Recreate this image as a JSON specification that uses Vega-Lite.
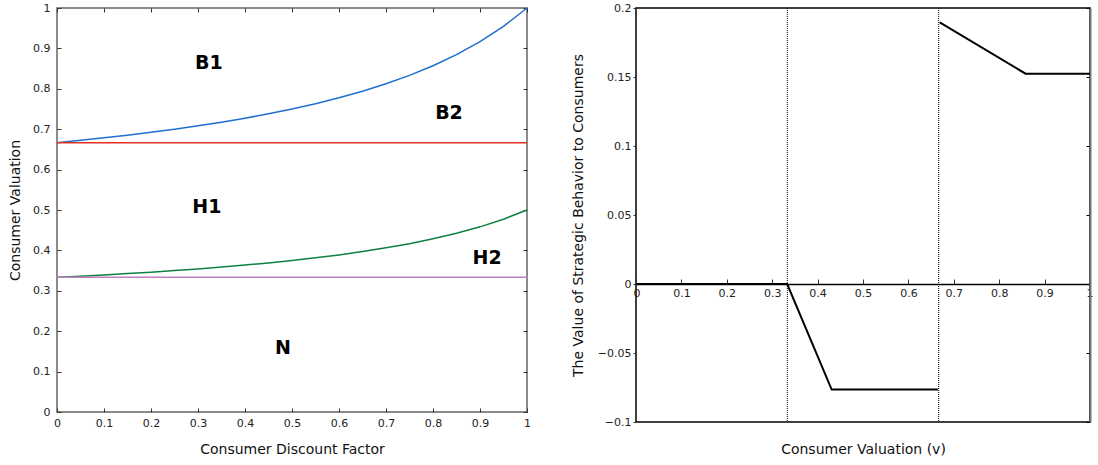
{
  "$schema": "https://vega.github.io/schema/vega-lite/v6.json",
  "padding": {"left": 7, "top": 1, "right": 0, "bottom": 0},
  "config": {
    "font": "DejaVu Sans",
    "axis": {"labelFont": "DejaVu Sans", "labelFontSize": 11, "labelColor": "#222", "titleFont": "DejaVu Sans", "titleFontSize": 14, "titleFontWeight": "normal", "titleColor": "#111", "grid": false, "tickColor": "#333", "domainColor": "#666"}
  },
  "spacing": 38,
  "hconcat": [
    {
      "width": 470,
      "height": 404,
      "view": {"stroke": "#666", "strokeWidth": 1.5},
      "layer": [
        {
          "data": {"values": [
            {"d": 0, "v": 0.6667, "s": "B1/B2"}, {"d": 0.05, "v": 0.6724, "s": "B1/B2"}, {"d": 0.1, "v": 0.6786, "s": "B1/B2"}, {"d": 0.15, "v": 0.6852, "s": "B1/B2"}, {"d": 0.2, "v": 0.6923, "s": "B1/B2"}, {"d": 0.25, "v": 0.7, "s": "B1/B2"}, {"d": 0.3, "v": 0.7083, "s": "B1/B2"}, {"d": 0.35, "v": 0.7174, "s": "B1/B2"}, {"d": 0.4, "v": 0.7273, "s": "B1/B2"}, {"d": 0.45, "v": 0.7381, "s": "B1/B2"}, {"d": 0.5, "v": 0.75, "s": "B1/B2"}, {"d": 0.55, "v": 0.7632, "s": "B1/B2"}, {"d": 0.6, "v": 0.7778, "s": "B1/B2"}, {"d": 0.65, "v": 0.7941, "s": "B1/B2"}, {"d": 0.7, "v": 0.8125, "s": "B1/B2"}, {"d": 0.75, "v": 0.8333, "s": "B1/B2"}, {"d": 0.8, "v": 0.8571, "s": "B1/B2"}, {"d": 0.85, "v": 0.8846, "s": "B1/B2"}, {"d": 0.9, "v": 0.9167, "s": "B1/B2"}, {"d": 0.95, "v": 0.9545, "s": "B1/B2"}, {"d": 1, "v": 1, "s": "B1/B2"},
            {"d": 0, "v": 0.6667, "s": "B/H"}, {"d": 1, "v": 0.6667, "s": "B/H"},
            {"d": 0, "v": 0.3333, "s": "H1/H2"}, {"d": 0.05, "v": 0.3362, "s": "H1/H2"}, {"d": 0.1, "v": 0.3393, "s": "H1/H2"}, {"d": 0.15, "v": 0.3426, "s": "H1/H2"}, {"d": 0.2, "v": 0.3462, "s": "H1/H2"}, {"d": 0.25, "v": 0.35, "s": "H1/H2"}, {"d": 0.3, "v": 0.3542, "s": "H1/H2"}, {"d": 0.35, "v": 0.3587, "s": "H1/H2"}, {"d": 0.4, "v": 0.3636, "s": "H1/H2"}, {"d": 0.45, "v": 0.369, "s": "H1/H2"}, {"d": 0.5, "v": 0.375, "s": "H1/H2"}, {"d": 0.55, "v": 0.3816, "s": "H1/H2"}, {"d": 0.6, "v": 0.3889, "s": "H1/H2"}, {"d": 0.65, "v": 0.3971, "s": "H1/H2"}, {"d": 0.7, "v": 0.4063, "s": "H1/H2"}, {"d": 0.75, "v": 0.4167, "s": "H1/H2"}, {"d": 0.8, "v": 0.4286, "s": "H1/H2"}, {"d": 0.85, "v": 0.4423, "s": "H1/H2"}, {"d": 0.9, "v": 0.4583, "s": "H1/H2"}, {"d": 0.95, "v": 0.4773, "s": "H1/H2"}, {"d": 1, "v": 0.5, "s": "H1/H2"},
            {"d": 0, "v": 0.3333, "s": "H/N"}, {"d": 1, "v": 0.3333, "s": "H/N"}
          ]},
          "mark": {"type": "line", "strokeWidth": 1.5},
          "encoding": {
            "x": {"field": "d", "type": "quantitative", "scale": {"domain": [0, 1], "nice": false}, "axis": {"orient": "bottom", "title": "Consumer Discount Factor", "values": [0, 0.1, 0.2, 0.3, 0.4, 0.5, 0.6, 0.7, 0.8, 0.9, 1], "format": "~g", "domain": false, "tickSize": -4, "labelPadding": 9, "titlePadding": 14, "labelFlush": false}},
            "y": {"field": "v", "type": "quantitative", "scale": {"domain": [0, 1], "nice": false}, "axis": {"orient": "left", "title": "Consumer Valuation", "values": [0, 0.1, 0.2, 0.3, 0.4, 0.5, 0.6, 0.7, 0.8, 0.9, 1], "format": "~g", "domain": false, "tickSize": -4, "labelPadding": 11, "titlePadding": 10}},
            "color": {"field": "s", "type": "nominal", "scale": {"domain": ["B1/B2", "B/H", "H1/H2", "H/N"], "range": ["#1f6fd0", "#e03020", "#108040", "#c080c0"]}, "legend": null},
            "detail": {"field": "s"}
          }
        },
        {
          "data": {"values": [
            {"x": 0.323, "y": 0.864, "t": "B1"},
            {"x": 0.834, "y": 0.74, "t": "B2"},
            {"x": 0.319, "y": 0.507, "t": "H1"},
            {"x": 0.915, "y": 0.381, "t": "H2"},
            {"x": 0.481, "y": 0.158, "t": "N"}
          ]},
          "mark": {"type": "text", "font": "DejaVu Sans", "fontWeight": "bold", "fontSize": 19, "color": "#000"},
          "encoding": {
            "x": {"field": "x", "type": "quantitative", "scale": {"domain": [0, 1], "nice": false}, "axis": {"orient": "top", "title": null, "labels": false, "domain": false, "values": [0, 0.1, 0.2, 0.3, 0.4, 0.5, 0.6, 0.7, 0.8, 0.9, 1], "tickSize": -4}},
            "y": {"field": "y", "type": "quantitative", "scale": {"domain": [0, 1], "nice": false}, "axis": {"orient": "right", "title": null, "labels": false, "domain": false, "values": [0, 0.1, 0.2, 0.3, 0.4, 0.5, 0.6, 0.7, 0.8, 0.9, 1], "tickSize": -4}},
            "text": {"field": "t"}
          }
        }
      ],
      "resolve": {"axis": {"x": "independent", "y": "independent"}}
    },
    {
      "width": 454,
      "height": 414,
      "view": {"stroke": "#000", "strokeWidth": 1.5},
      "layer": [
        {
          "data": {"values": [
            {"v": 0, "w": 0, "seg": "a"}, {"v": 0.333, "w": 0, "seg": "a"}, {"v": 0.431, "w": -0.0765, "seg": "a"}, {"v": 0.665, "w": -0.0765, "seg": "a"},
            {"v": 0.669, "w": 0.1896, "seg": "b"}, {"v": 0.858, "w": 0.1524, "seg": "b"}, {"v": 1, "w": 0.1524, "seg": "b"}
          ]},
          "mark": {"type": "line", "color": "#000", "strokeWidth": 2},
          "encoding": {
            "x": {"field": "v", "type": "quantitative", "scale": {"domain": [0, 1], "nice": false}, "axis": {"orient": "bottom", "offset": -138, "title": null, "values": [0, 0.1, 0.2, 0.3, 0.4, 0.5, 0.6, 0.7, 0.8, 0.9, 1], "format": "~g", "domainColor": "#000", "domainWidth": 1.5, "tickSize": -5, "labelPadding": 8, "labelFlush": true, "labelFlushOffset": 3}},
            "y": {"field": "w", "type": "quantitative", "scale": {"domain": [-0.1, 0.2], "nice": false}, "axis": {"orient": "left", "title": "The Value of Strategic Behavior to Consumers", "values": [-0.1, -0.05, 0, 0.05, 0.1, 0.15, 0.2], "format": "~g", "domain": false, "tickSize": 3, "labelPadding": 2, "titlePadding": 12}},
            "detail": {"field": "seg"}
          }
        },
        {
          "data": {"values": [{"v": 0.3333}, {"v": 0.6667}]},
          "mark": {"type": "rule", "color": "#000", "strokeWidth": 1, "strokeDash": [1, 1]},
          "encoding": {
            "x": {"field": "v", "type": "quantitative", "scale": {"domain": [0, 1], "nice": false}, "axis": {"orient": "bottom", "title": "Consumer Valuation (v)", "labels": false, "ticks": false, "domain": false, "titlePadding": 20}}
          }
        },
        {
          "data": {"values": [
            {"v": 0, "w": 0, "seg": "a"}, {"v": 0.333, "w": 0, "seg": "a"}, {"v": 0.431, "w": -0.0765, "seg": "a"}, {"v": 0.665, "w": -0.0765, "seg": "a"},
            {"v": 0.669, "w": 0.1896, "seg": "b"}, {"v": 0.858, "w": 0.1524, "seg": "b"}, {"v": 1, "w": 0.1524, "seg": "b"}
          ]},
          "mark": {"type": "line", "opacity": 0},
          "encoding": {
            "x": {"field": "v", "type": "quantitative", "scale": {"domain": [0, 1], "nice": false}, "axis": null},
            "y": {"field": "w", "type": "quantitative", "scale": {"domain": [-0.1, 0.2], "nice": false}, "axis": {"orient": "right", "title": null, "labels": false, "domainColor": "#777", "domainWidth": 2, "values": [-0.1, -0.05, 0, 0.05, 0.1, 0.15, 0.2], "tickSize": -4, "tickColor": "#000"}},
            "detail": {"field": "seg"}
          }
        }
      ],
      "resolve": {"axis": {"x": "independent", "y": "independent"}}
    }
  ]
}
